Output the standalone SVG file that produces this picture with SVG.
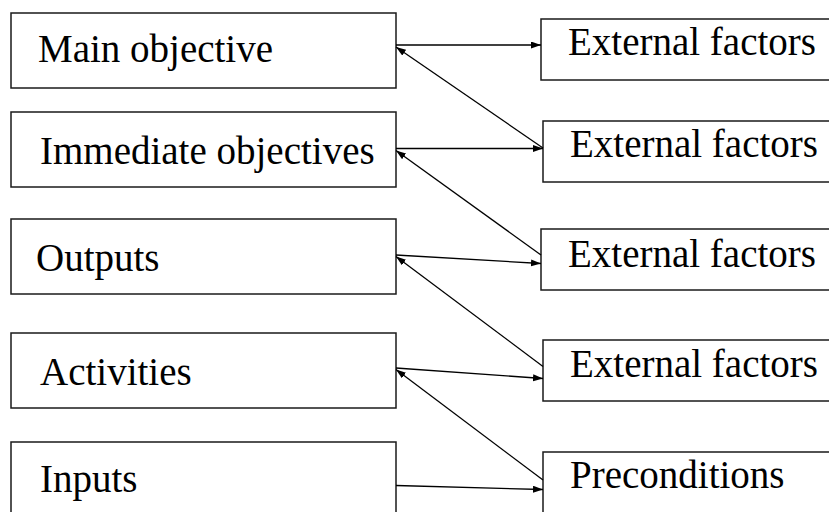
<svg xmlns="http://www.w3.org/2000/svg" width="829" height="512" viewBox="0 0 829 512">
<defs>
<style>
.box{fill:#fff;stroke:#1a1a1a;stroke-width:1.5}
.t{font-family:'Liberation Serif','Times New Roman',serif;font-size:39px;fill:#000}
.c{stroke:#000;stroke-width:1.3;fill:none;marker-end:url(#ah)}
</style>
<marker id="ah" markerUnits="userSpaceOnUse" markerWidth="11" markerHeight="8" refX="10" refY="3.5" orient="auto">
<path d="M0,0 L10,3.5 L0,7 z" fill="#000"/>
</marker>
</defs>
<rect width="829" height="512" fill="#fff"/>
<g id="main-objective"><rect class="box" x="11" y="13" width="385" height="75"/><text class="t" x="38" y="62">Main objective</text></g>
<g id="immediate-objectives"><rect class="box" x="11" y="112" width="385" height="75"/><text class="t" x="40" y="164">Immediate objectives</text></g>
<g id="outputs"><rect class="box" x="11" y="219" width="385" height="75"/><text class="t" x="36" y="271">Outputs</text></g>
<g id="activities"><rect class="box" x="11" y="333" width="385" height="75"/><text class="t" x="40" y="385">Activities</text></g>
<g id="inputs"><rect class="box" x="11" y="442" width="385" height="76"/><text class="t" x="40" y="492">Inputs</text></g>
<g id="ext1"><rect class="box" x="541" y="19" width="300" height="61"/><text class="t" x="568" y="55">External factors</text></g>
<g id="ext2"><rect class="box" x="543" y="121" width="300" height="61"/><text class="t" x="570" y="157">External factors</text></g>
<g id="ext3"><rect class="box" x="541" y="229" width="300" height="61"/><text class="t" x="568" y="267">External factors</text></g>
<g id="ext4"><rect class="box" x="543" y="340" width="300" height="61"/><text class="t" x="570" y="377">External factors</text></g>
<g id="preconditions"><rect class="box" x="543" y="452" width="300" height="70"/><text class="t" x="570" y="488">Preconditions</text></g>
<g id="connectors">
<line class="c" x1="396" y1="45" x2="541" y2="45"/>
<line class="c" x1="543" y1="148" x2="396" y2="47"/>
<line class="c" x1="396" y1="148.5" x2="543" y2="148.5"/>
<line class="c" x1="541" y1="255" x2="396" y2="150.5"/>
<line class="c" x1="396" y1="255" x2="541" y2="263.5"/>
<line class="c" x1="543" y1="366.5" x2="396" y2="256.5"/>
<line class="c" x1="396" y1="368" x2="543" y2="378.5"/>
<line class="c" x1="543" y1="480" x2="396" y2="369.5"/>
<line class="c" x1="396" y1="485.5" x2="543" y2="489.5"/>
</g>
</svg>
